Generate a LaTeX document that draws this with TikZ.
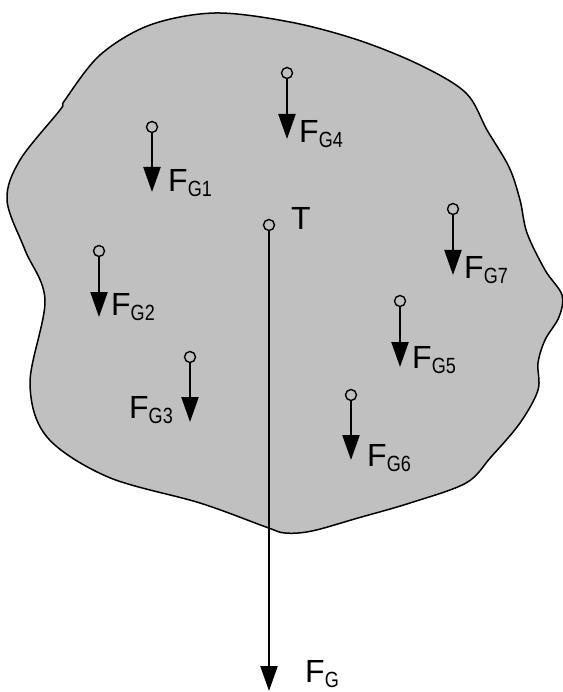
\documentclass[tikz,border=0pt]{standalone}
\usepackage{fontspec}
\setmainfont{Liberation Sans}
\usetikzlibrary{arrows.meta}
\newcommand{\FGlab}[1]{F\raisebox{-5pt}{\fontsize{22}{22}\selectfont\scalebox{0.82}[1]{G#1}}}
\tikzset{
  x=1pt,y=-1pt,
  pin/.style={circle,draw,line width=1.4pt,fill=none,inner sep=0pt,minimum size=11pt},
  force/.style={line width=2.3pt,-{Triangle[width=17pt,length=25pt]}},
  lab/.style={anchor=base west,inner sep=0pt,font=\fontsize{32}{32}\selectfont},
}
\begin{document}
\begin{tikzpicture}
\useasboundingbox (0,0) rectangle (562,692);
\draw[line width=1.5pt,fill={rgb,255:red,192;green,192;blue,192}] plot[smooth cycle,tension=0.55] coordinates {
(215,13) (290,22) (358,40) (420,65) (466,93) (487,130) (509,167) (520,200) (527,233) (545,270) (562,295)
(559,317) (545,340) (538,363) (538,390) (520,423) (491,457) (466,483) (410,503) (358,518) (312,531) (285,533) (266,527)
(200,503) (108,477) (47,437) (30,383) (45,300) (25,250) (7,200) (20,160) (60,110) (65,100) (100,55) (150,25)};
% forces
\node[pin] (c1) at (152,127) {};
\coordinate (e1) at (152,192);
\draw[force] (c1) -- (e1);
\node[lab] (l1) at (168,192) {\FGlab{1}};
\node[pin] (c4) at (287,73) {};
\coordinate (e4) at (287,139);
\draw[force] (c4) -- (e4);
\node[lab] (l4) at (299,143) {\FGlab{4}};
\node[pin] (c7) at (453,209) {};
\coordinate (e7) at (453,275);
\draw[force] (c7) -- (e7);
\node[lab] (l7) at (464,278) {\FGlab{7}};
\node[pin] (c2) at (99,251) {};
\coordinate (e2) at (99,317);
\draw[force] (c2) -- (e2);
\node[lab] (l2) at (111,315) {\FGlab{2}};
\node[pin] (c3) at (190,357) {};
\coordinate (e3) at (190,422);
\draw[force] (c3) -- (e3);
\node[lab] (l3) at (129,418) {\FGlab{3}};
\node[pin] (c5) at (400,301) {};
\coordinate (e5) at (400,367);
\draw[force] (c5) -- (e5);
\node[lab] (l5) at (412,368) {\FGlab{5}};
\node[pin] (c6) at (351,395) {};
\coordinate (e6) at (351,460);
\draw[force] (c6) -- (e6);
\node[lab] (l6) at (367,466) {\FGlab{6}};
% centre of gravity
\node[pin] (T) at (269,225) {};
\coordinate (eT) at (269,691);
\draw[force] (T) -- (eT);
\node[lab] (lT) at (291,230) {T};
\node[lab] (lG) at (305,682) {F\raisebox{-5pt}{\fontsize{22}{22}\selectfont\scalebox{0.82}[1]{G}}};
\end{tikzpicture}
\end{document}
